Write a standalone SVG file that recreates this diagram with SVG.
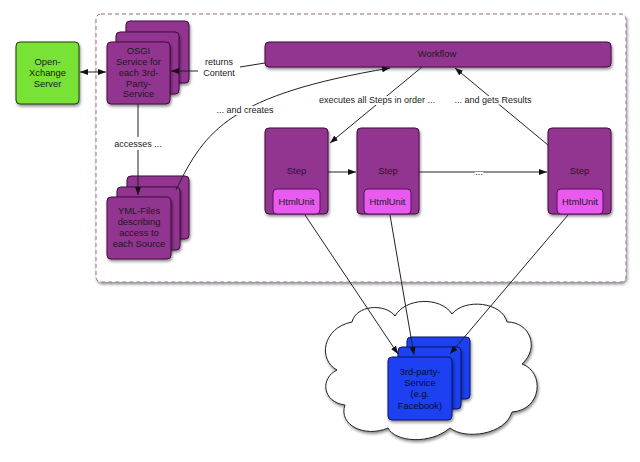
<svg xmlns="http://www.w3.org/2000/svg" width="640" height="462" viewBox="0 0 640 462">
<defs>
<filter id="sh" x="-20%" y="-20%" width="150%" height="150%">
<feGaussianBlur in="SourceAlpha" stdDeviation="1.5"/>
<feOffset dx="1" dy="2" result="b"/>
<feComponentTransfer><feFuncA type="linear" slope="0.45"/></feComponentTransfer>
<feMerge><feMergeNode/><feMergeNode in="SourceGraphic"/></feMerge>
</filter>
<marker id="ah" viewBox="0 0 8 6" refX="8" refY="3" markerWidth="8" markerHeight="6" markerUnits="userSpaceOnUse" orient="auto-start-reverse">
<path d="M0,0 L8,3 L0,6 z" fill="#111"/>
</marker>
<style>
text{font-family:"Liberation Sans",Arial,sans-serif;font-size:9px;fill:#1a1a1a;text-anchor:middle}
.n text{font-size:9.4px}
.p{fill:#923590;stroke:#3c0c3a;stroke-width:1}
.g{fill:#78e236;stroke:#1f3a0c;stroke-width:1}
.k{fill:#e85af0;stroke:#5a1060;stroke-width:1}
.b{fill:#1e3ff2;stroke:#0a1560;stroke-width:1}
.bt{fill:#0a0a35}
.c{fill:none;stroke:#222;stroke-width:1}
.lbl{paint-order:stroke;stroke:#fff;stroke-width:4;stroke-linejoin:round}
</style>
</defs>
<rect width="640" height="462" fill="#fff"/>

<g id="container">
<rect x="96" y="14" width="530" height="268" rx="5" fill="#fff" stroke="#9a6a9a" stroke-width="1" stroke-dasharray="4,3" filter="url(#sh)"/>
</g>

<g id="cloud">
<path d="M 337 370 C 318 360, 322 328, 352 322 C 356 305, 385 303, 395 316 C 405 298, 440 296, 452 314 C 465 298, 502 302, 507 322 C 530 322, 540 348, 522 364 C 545 372, 542 410, 512 412 C 505 435, 465 440, 450 428 C 430 445, 395 442, 388 428 C 365 438, 338 425, 345 405 C 322 402, 320 378, 337 370 Z" fill="#fff" stroke="#222" stroke-width="1" filter="url(#sh)"/>
</g>

<g id="open-xchange" class="n">
<rect class="g" x="16" y="42" width="63" height="62" rx="4" filter="url(#sh)"/>
<text x="47.5" y="65">Open-</text>
<text x="47.5" y="76">Xchange</text>
<text x="47.5" y="87">Server</text>
</g>

<g id="osgi" class="n">
<rect class="p" x="126" y="21" width="63" height="62" rx="4" filter="url(#sh)"/>
<rect class="p" x="116" y="32" width="63" height="62" rx="4" filter="url(#sh)"/>
<rect class="p" x="107" y="42" width="63" height="62" rx="4" filter="url(#sh)"/>
<text x="138.5" y="54">OSGI</text>
<text x="138.5" y="65">Service for</text>
<text x="138.5" y="76">each 3rd-</text>
<text x="138.5" y="86.5">Party-</text>
<text x="138.5" y="97">Service</text>
</g>

<g id="workflow" class="n">
<rect class="p" x="265" y="42" width="346" height="25" rx="4" filter="url(#sh)"/>
<text x="437" y="57">Workflow</text>
</g>

<g id="yml" class="n">
<rect class="p" x="127" y="176" width="62" height="63" rx="4" filter="url(#sh)"/>
<rect class="p" x="117" y="187" width="63" height="63" rx="4" filter="url(#sh)"/>
<rect class="p" x="107" y="197" width="64" height="62" rx="4" filter="url(#sh)"/>
<text x="139" y="214">YML-Files</text>
<text x="139" y="225">describing</text>
<text x="139" y="236">access to</text>
<text x="139" y="247">each Source</text>
</g>

<g id="step1" class="n">
<rect class="p" x="265" y="128" width="63" height="86" rx="4" filter="url(#sh)"/>
<text x="296.5" y="174">Step</text>
<rect class="k" x="273" y="189" width="47" height="25" rx="4"/>
<text x="296.5" y="205">HtmlUnit</text>
</g>

<g id="step2" class="n">
<rect class="p" x="357" y="128" width="62" height="86" rx="4" filter="url(#sh)"/>
<text x="388" y="174">Step</text>
<rect class="k" x="364" y="189" width="47" height="25" rx="4"/>
<text x="387.5" y="205">HtmlUnit</text>
</g>

<g id="step3" class="n">
<rect class="p" x="548" y="128" width="63" height="86" rx="4" filter="url(#sh)"/>
<text x="579.5" y="174">Step</text>
<rect class="k" x="557" y="189" width="46" height="25" rx="4"/>
<text x="580" y="205">HtmlUnit</text>
</g>

<g id="third-party" class="n">
<rect class="b" x="407" y="337" width="63" height="62" rx="4" filter="url(#sh)"/>
<rect class="b" x="398" y="347" width="63" height="62" rx="4" filter="url(#sh)"/>
<rect class="b" x="388" y="357" width="64" height="63" rx="4" filter="url(#sh)"/>
<text class="bt" x="420" y="375">3rd-party-</text>
<text class="bt" x="420" y="386">Service</text>
<text class="bt" x="420" y="397">(e.g.</text>
<text class="bt" x="420" y="409">Facebook)</text>
</g>

<g id="connectors">
<path class="c" d="M 80 72 L 106 72" marker-start="url(#ah)" marker-end="url(#ah)"/>
<path class="c" d="M 265 63 L 240 67 M 198 71 L 171 71" marker-end="url(#ah)"/>
<text x="219" y="65">returns</text>
<text x="219" y="76">Content</text>
<path class="c" d="M 138 104 L 138 137 M 138 150 L 138 195" marker-end="url(#ah)"/>
<text x="138" y="147">accesses ...</text>
<path class="c" d="M 176 190 C 205 130, 230 95, 390 68" marker-end="url(#ah)"/>
<text class="lbl" x="245" y="113">... and creates</text>
<path class="c" d="M 422 67 L 330 143" marker-end="url(#ah)"/>
<text class="lbl" x="377" y="103">executes all Steps in order ...</text>
<path class="c" d="M 548 145 L 455 68" marker-end="url(#ah)"/>
<text class="lbl" x="493" y="103">... and gets Results</text>
<path class="c" d="M 328 172 L 356 172" marker-end="url(#ah)"/>
<path class="c" d="M 419 172 L 547 172" marker-end="url(#ah)"/>
<text class="lbl" x="479" y="175">...</text>
<path class="c" d="M 305 215 L 398 354" marker-end="url(#ah)"/>
<path class="c" d="M 390 215 L 414 355" marker-end="url(#ah)"/>
<path class="c" d="M 568 215 L 450 354" marker-end="url(#ah)"/>
</g>
</svg>
